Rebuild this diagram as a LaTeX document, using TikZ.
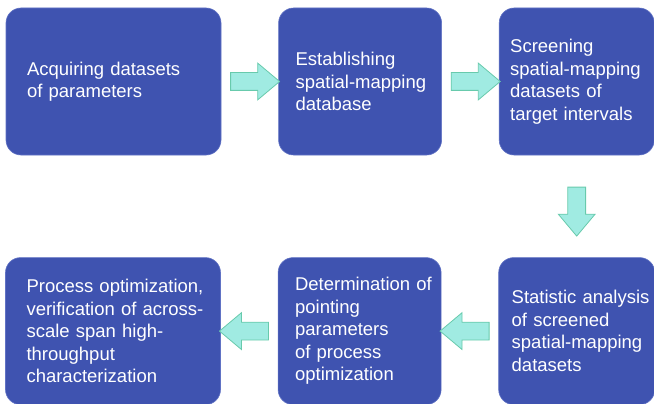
\documentclass[tikz,border=0pt]{standalone}
\usepackage{fontspec}
\setmainfont{Liberation Sans}
\usetikzlibrary{positioning,shapes.arrows,calc}

\definecolor{stageblue}{RGB}{63,83,176}
\definecolor{stageedge}{RGB}{96,114,196}
\definecolor{flowfill}{RGB}{160,235,226}
\definecolor{flowedge}{RGB}{104,202,172}

\tikzstyle{stage} = [rectangle,rounded corners=15pt,fill=stageblue,draw=stageedge,line width=0.6pt,
  text=white,align=left,minimum height=147pt,inner xsep=0pt,inner ysep=0pt,
  font=\fontsize{18.5pt}{22.5pt}\selectfont]
\tikzset{inset/.style={execute at begin node={\hyphenpenalty=10000\relax\leftskip=#1\relax}}}
\tikzstyle{flow} = [single arrow,fill=flowfill,draw=flowedge,line width=0.8pt,inner xsep=0pt,inner ysep=8.5pt,
  minimum height=49pt,single arrow head extend=9.5pt,single arrow tip angle=80]

\begin{document}
\begin{tikzpicture}[x=1pt,y=-1pt]
	\useasboundingbox (0,0) rectangle (654,404);
	% top row
	\node (acq) [stage,text width=215pt,inset=21pt] at (113.5,81.5) {Acquiring datasets\\of parameters};
	\node (est) [stage,text width=163pt,inset=17pt,right=57pt of acq] {Establishing\\spatial-mapping\\database};
	\node (scr) [stage,text width=155pt,inset=11pt,right=57pt of est] {Screening\\spatial-mapping\\datasets of\\target intervals};
	% bottom row
	\node (sta) [stage,text width=156pt,inset=13pt,below=102pt of scr] {Statistic analysis\\of screened\\spatial-mapping\\datasets};
	\node (det) [stage,text width=163pt,inset=17pt,left=57pt of sta] {Determination of\\pointing\\parameters\\of process\\optimization};
	\node (opt) [stage,text width=215pt,inset=21pt,left=57pt of det] {Process optimization,\\verification of across-\\scale span high-\\throughput\\characterization};
	% connections
	\node (f1) [flow] at ($(acq.east)!0.5!(est.west)$) {};
	\node (f2) [flow] at ($(est.east)!0.5!(scr.west)$) {};
	\node (f3) [flow,rotate=-90] at ($(scr.south)!0.5!(sta.north)$) {};
	\node (f4) [flow,rotate=180] at ($(sta.west)!0.5!(det.east)$) {};
	\node (f5) [flow,rotate=180] at ($(det.west)!0.5!(opt.east)$) {};
\end{tikzpicture}
\end{document}
